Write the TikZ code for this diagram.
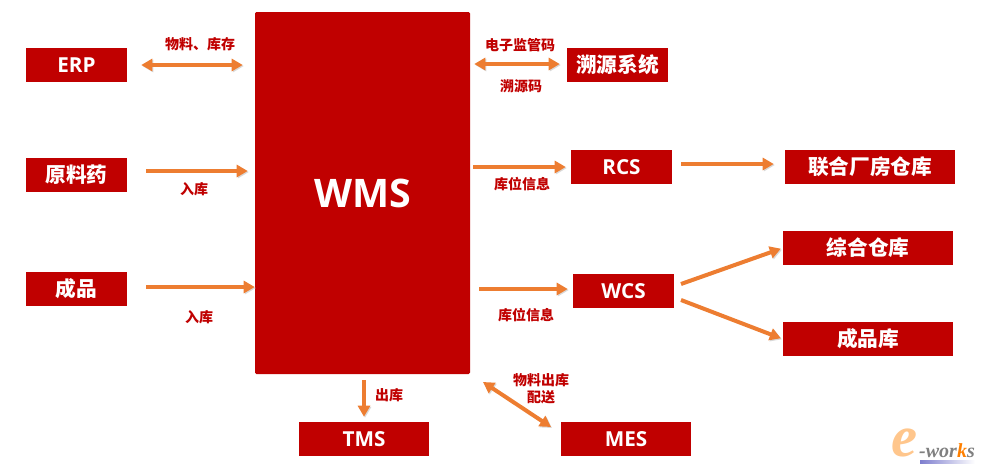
\documentclass[tikz,border=0pt]{standalone}
\usepackage{fontspec}
\setmainfont{Open Sans}
\newfontfamily\cjk{Noto Sans CJK SC}
\newfontfamily\logofont{Liberation Serif}
\usetikzlibrary{positioning}
\usetikzlibrary{arrows.meta}
\definecolor{boxred}{HTML}{C00000}
\definecolor{arroworange}{HTML}{ED7D31}
\newcommand{\cn}[1]{\raisebox{-1pt}{\cjk\bfseries #1}}
\tikzset{
    box/.style = {rectangle, fill=boxred, text=white, inner sep=0pt, minimum height=25.5pt, align=center, font=\bfseries\fontsize{15.5}{18}\selectfont},
    boxs/.style = {box, minimum width=75.75pt},
    boxm/.style = {box, minimum width=97.5pt},
    boxl/.style = {box, minimum width=127.5pt},
    mainbox/.style = {rectangle, fill=boxred, text=white, rounded corners=1pt, minimum width=161.25pt, minimum height=271.5pt, font=\bfseries\fontsize{29.5}{32}\selectfont},
    lbl/.style = {text=boxred, inner sep=0pt, align=center, font=\cjk\bfseries\fontsize{10.5}{12.8}\selectfont},
    edgen/.style = {-{Triangle[length=8.25pt,width=9pt]}, arroworange, line width=3pt,
        preaction={draw=black!15, transform canvas={shift={(0.8pt,-0.8pt)}}}},
    edgeb/.style = {{Triangle[length=8.25pt,width=9pt]}-{Triangle[length=8.25pt,width=9pt]}, arroworange, line width=3pt,
        preaction={draw=black!15, transform canvas={shift={(0.8pt,-0.8pt)}}}},
}

\begin{document}
\begin{tikzpicture}[x=0.75pt,y=-0.75pt]
\useasboundingbox (0,0) rectangle (984,475);
%
\node[mainbox] at (362.5,193) (wms) {WMS};
\node[boxs] at (76.5,65) (erp) {ERP};
\node[boxs] at (76.5,175) (yuanliao) {\cn{原料药}};
\node[boxs] at (76.5,289) (chengpin) {\cn{成品}};
\node[boxs] at (617.5,65) (suyuan) {\cn{溯源系统}};
\node[boxs] at (621.5,167) (rcs) {RCS};
\node[boxs] at (623.5,291) (wcs) {WCS};
\node[boxl] at (870,167) (lianhe) {\cn{联合厂房仓库}};
\node[boxl] at (868,248) (zonghe) {\cn{综合仓库}};
\node[boxl] at (868,339) (chengpinku) {\cn{成品库}};
\node[boxm] at (364,439) (tms) {TMS};
\node[boxm] at (626,439) (mes) {MES};
%
\node[lbl] at (200,44) (l1) {物料、库存};
\node[lbl] at (194,189) (l2) {入库};
\node[lbl] at (199,317) (l3) {入库};
\node[lbl] at (520,45) (l4) {电子监管码};
\node[lbl] at (521,86) (l5) {溯源码};
\node[lbl] at (522,184) (l6) {库位信息};
\node[lbl] at (526,315) (l7) {库位信息};
\node[lbl] at (389,395) (l8) {出库};
\node[lbl] at (541,389) (l9) {物料出库\\配送};
%
\draw[edgeb, shorten <=10.5pt, shorten >=9pt] (erp.east) -- (erp.east -| wms.west);
\draw[edgen, shorten <=14.25pt, shorten >=5.25pt] (yuanliao.east |- 0,171) coordinate (c1) -- (c1 -| wms.west);
\draw[edgen, shorten <=14.25pt] (chengpin.east |- 0,287) coordinate (c2) -- (c2 -| wms.west);
\draw[edgeb, shorten <=3pt, shorten >=5.25pt] (wms.east |- 0,64) coordinate (c3) -- (c3 -| suyuan.west);
\draw[edgen, shorten <=2.25pt, shorten >=3.75pt] (wms.east |- rcs.east) -- (rcs.west);
\draw[edgen, shorten <=6.75pt, shorten >=8.25pt] (rcs.east |- 0,164) coordinate (c4) -- (c4 -| lianhe.west);
\draw[edgen, shorten <=6.75pt, shorten >=3.75pt] (wms.east |- 0,289) coordinate (c5) -- (c5 -| wcs.west);
\coordinate (w1) at (681,284);
\coordinate (w2) at (681,300);
\draw[edgen, shorten >=1.5pt] (w1) -- (zonghe.west);
\draw[edgen, shorten >=1.5pt] (w2) -- (chengpinku.west);
\draw[edgen, shorten <=4.5pt, shorten >=3.75pt] (wms.south -| tms.north) -- (tms.north);
\coordinate (m1) at (483,382);
\coordinate (m2) at (551,427);
\draw[edgeb] (m1) -- (m2);
%
\shade[left color=blue!45!gray!70, right color=white] (920,460) rectangle (975,463);
\node[inner sep=0pt, text=orange!45, font=\logofont\itshape\bfseries\fontsize{44}{44}\selectfont] at (905,443) (logoe) {e};
\node[inner sep=0pt, text=gray, font=\logofont\itshape\bfseries\fontsize{15}{15}\selectfont] at (947,451) (logow) {-wor\textcolor{orange}{k}s};

\end{tikzpicture}
\end{document}
